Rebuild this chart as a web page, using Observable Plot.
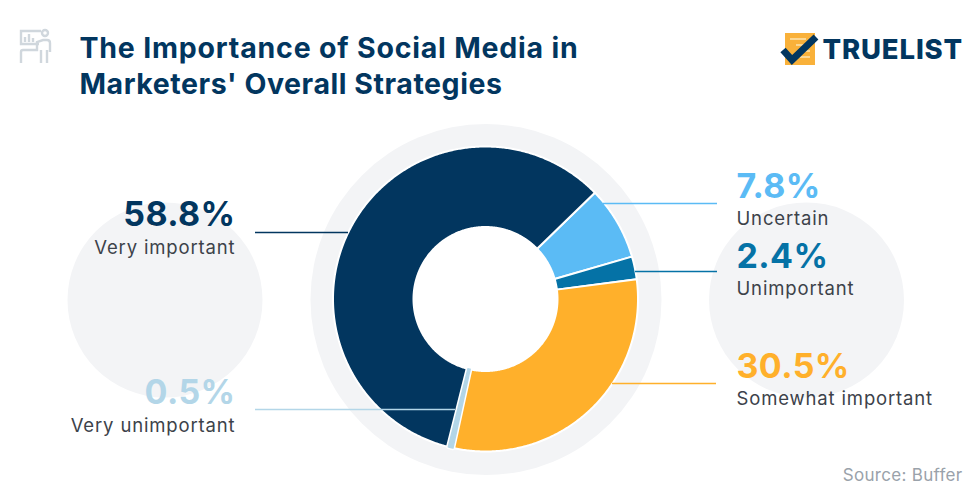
<!DOCTYPE html>
<html>
<head>
<meta charset="utf-8">
<script src="https://cdn.jsdelivr.net/npm/d3@7"></script>
<script src="https://cdn.jsdelivr.net/npm/@observablehq/plot@0.6"></script>
<style>
html,body{margin:0;padding:0;background:#fff;}
#wrap{position:relative;width:979px;height:501px;overflow:hidden;}
#wrap svg.deco{position:absolute;left:0;top:0;pointer-events:none;}
.ls-title text{letter-spacing:0.8px;}
.ls-title2 text{letter-spacing:0.55px;}
.ls-value text{letter-spacing:0.4px;}
.ls-label text{letter-spacing:0.85px;}
.ls-brand text{letter-spacing:0.85px;}
.ls-source text{letter-spacing:0.3px;}
</style>
</head>
<body>
<div id="wrap"></div>
<script>
const categories = ["Uncertain","Unimportant","Somewhat important","Very unimportant","Very important"];
const values = [7.8,2.4,30.5,0.5,58.8];
const colors = ["#5bbbf5","#0572a6","#ffb02b","#b3d6e8","#02365f"];
const titleLines = ["The Importance of Social Media in","Marketers' Overall Strategies"];
const source = "Source: Buffer";
const brand = "TRUELIST";

const cx = 485.5, cy = 299, rOuter = 152.5, rInner = 72, startDeg = 45.8;
const FONT = "Inter, Lato, sans-serif";

// wedge ribbons built from the values
const total = d3.sum(values);
let acc = 0;
const ribbons = [];
categories.forEach((c,i)=>{
  const a0 = startDeg + acc/total*360;
  acc += values[i];
  const a1 = startDeg + acc/total*360;
  const n = Math.max(2, Math.ceil((a1-a0)/0.5));
  d3.range(n+1).forEach(k=>{
    const t = (a0+(a1-a0)*k/n)*Math.PI/180;
    ribbons.push({category:c,
      x1:cx+rInner*Math.sin(t), y1:cy-rInner*Math.cos(t),
      x2:cx+rOuter*Math.sin(t), y2:cy-rOuter*Math.cos(t)});
  });
});
const thinSlice = ribbons.filter(d=>d.category==="Very unimportant");

// label layout: [category, anchor x, value baseline, label baseline]
const labelLayout = [
  ["Very important",235,225,253,"end"],
  ["Very unimportant",235,403,431,"end"],
  ["Uncertain",736,197,224,"start"],
  ["Unimportant",736,267,294,"start"],
  ["Somewhat important",736,377,404,"start"]
];
const labels = labelLayout.map(([c,x,yv,yl,anchor])=>({category:c,x,yv,yl,anchor,
  value:values[categories.indexOf(c)].toFixed(1)+"%"}));
const leaderLayout = [
  ["Very important",255,348,232],
  ["Very unimportant",255,455,409],
  ["Uncertain",603,717,203],
  ["Unimportant",635,717,271],
  ["Somewhat important",612,716,383]
].map(([category,x1,x2,y])=>({category,x1,x2,y}));

const disks = [
  {x:164.5,y:299.5,r:97.5,fill:"#f3f4f6"},
  {x:806,y:299.5,r:97.5,fill:"#f3f4f6"},
  {x:485.5,y:299,r:175.5,fill:"#f3f4f6"},
  {x:485.5,y:299,r:72,fill:"#ffffff"}
];
const colorOf = c=>colors[categories.indexOf(c)];

const textBase = {fontFamily:FONT,lineAnchor:"bottom"};
const labelMarks = anchor=>{
  const rows = labels.filter(d=>d.anchor===anchor);
  return [
    Plot.text(rows,{...textBase,x:"x",y:"yv",text:"value",textAnchor:anchor,fill:d=>colorOf(d.category),fontSize:34,fontWeight:700,className:"ls-value"}),
    Plot.text(rows,{...textBase,x:"x",y:"yl",text:"category",textAnchor:anchor,fill:"#3c424a",fontSize:18.5,fontWeight:400,className:"ls-label"})
  ];
};
const chart = Plot.plot({
  width:979,height:501,
  marginTop:0,marginRight:0,marginBottom:0,marginLeft:0,
  style:{background:"transparent"},
  x:{domain:[0,979],range:[0,979],axis:null},
  y:{domain:[0,501],range:[0,501],axis:null},
  color:{domain:categories,range:colors},
  marks:[
    ...disks.map(d=>Plot.dot([d],{x:"x",y:"y",r:d.r,fill:d.fill,stroke:"none"})),
    Plot.area(ribbons,{x1:"x1",y1:"y1",x2:"x2",y2:"y2",z:"category",fill:"category",stroke:"#fff",strokeWidth:2,curve:"linear"}),
    Plot.area(thinSlice,{x1:"x1",y1:"y1",x2:"x2",y2:"y2",fill:"#fff",stroke:"#fff",strokeWidth:4.5,curve:"linear"}),
    Plot.area(thinSlice,{x1:"x1",y1:"y1",x2:"x2",y2:"y2",fill:"category",stroke:"#b3d6e8",strokeWidth:1.5,curve:"linear"}),
    Plot.ruleY(leaderLayout,{x1:"x1",x2:"x2",y:"y",stroke:d=>colorOf(d.category),strokeWidth:1.6}),
    ...labelMarks("end"),
    ...labelMarks("start"),
    Plot.text([titleLines[0]],{...textBase,x:()=>79,y:()=>57,text:d=>d,textAnchor:"start",fill:"#02365f",fontSize:28.5,fontWeight:700,className:"ls-title"}),
    Plot.text([titleLines[1]],{...textBase,x:()=>79,y:()=>93,text:d=>d,textAnchor:"start",fill:"#02365f",fontSize:28.5,fontWeight:700,className:"ls-title2"}),
    Plot.text([brand],{...textBase,x:()=>822,y:()=>58,text:d=>d,textAnchor:"start",fill:"#02365f",fontSize:27.5,fontWeight:800,className:"ls-brand"}),
    Plot.text([source],{...textBase,x:()=>962,y:()=>480,text:d=>d,textAnchor:"end",fill:"#9aa2aa",fontSize:17,fontWeight:400,className:"ls-source"})
  ]
});
const wrap = document.getElementById("wrap");
wrap.appendChild(chart);
// decorative pictograms
wrap.insertAdjacentHTML("beforeend",`
<svg class="deco" width="979" height="501" viewBox="0 0 979 501" aria-hidden="true">
  <g fill="none" stroke="#d0d7dd" stroke-width="2.4">
    <path d="M41 31H21V44H39"/>
    <path d="M25 42V37M29 42V34M33 42V38"/>
    <circle cx="45" cy="33" r="3"/>
    <path d="M21 63V52Q21 50 23 50H37V42L43 40H47Q50 40 50 43V52M41 63V50M47 63V50"/>
  </g>
  <path d="M785 33H815V65H785Z" fill="#f9b13a"/>
  <path d="M790 39H806M796 45H808M803 51H810M800 57H810" stroke="#fde3b0" stroke-width="1.5"/>
  <path d="M783 50L792 60L816 37" fill="none" stroke="#02365f" stroke-width="7"/>
</svg>`);
</script>
</body>
</html>
